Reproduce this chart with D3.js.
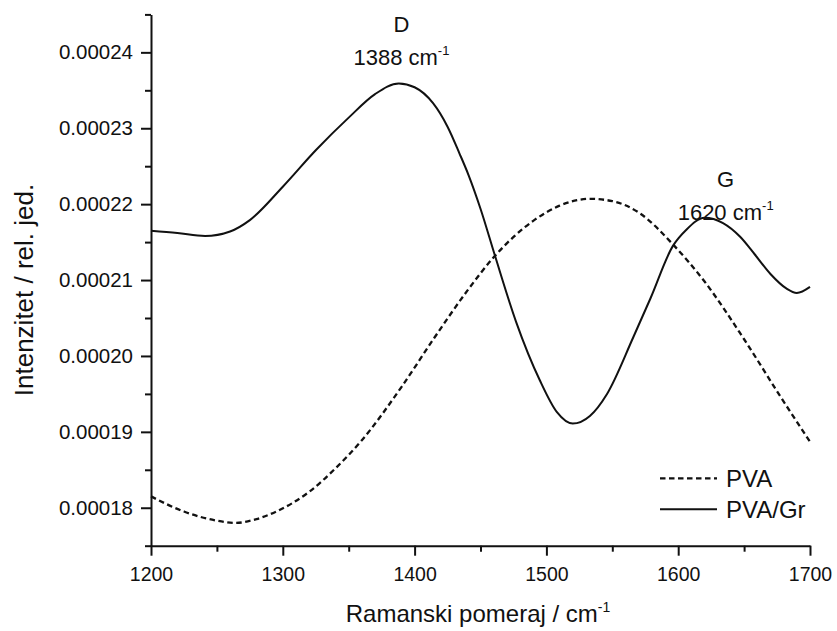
<!DOCTYPE html>
<html>
<head>
<meta charset="utf-8">
<script src="https://cdn.jsdelivr.net/npm/d3@7"></script>
<style>
  html, body { margin: 0; padding: 0; background: #fff; }
  svg { display: block; font-family: "Liberation Sans", Arial, sans-serif; }
</style>
</head>
<body>
<svg id="chart" width="837" height="631"></svg>
<script>
// ---- data ----
const pvaX = [1200, 1225, 1250, 1264, 1280, 1295, 1320, 1340, 1360, 1390, 1415, 1440, 1460, 1490, 1510, 1533, 1550, 1570, 1596, 1620, 1650, 1677, 1700];
const pvaY = [0.0001815, 0.0001795, 0.0001783, 0.0001780, 0.0001785, 0.0001795, 0.0001821, 0.0001852, 0.0001889, 0.0001959, 0.0002024, 0.0002086, 0.0002130, 0.0002178, 0.0002198, 0.0002207, 0.0002204, 0.0002189, 0.0002147, 0.0002098, 0.0002022, 0.0001948, 0.0001887];
const grX = [1200, 1220, 1241, 1260, 1275, 1300, 1325, 1350, 1370, 1388, 1400, 1414, 1425, 1434, 1441, 1450, 1461, 1477, 1495, 1508, 1520, 1533, 1546, 1566, 1579, 1596, 1606, 1620, 1634, 1647, 1658, 1670, 1682, 1690, 1700];
const grY = [0.0002165, 0.0002162, 0.0002158, 0.0002164, 0.0002179, 0.0002223, 0.0002271, 0.0002314, 0.0002345, 0.0002359, 0.0002354, 0.0002333, 0.0002302, 0.0002267, 0.0002238, 0.0002194, 0.0002132, 0.0002045, 0.0001968, 0.0001926, 0.0001911, 0.0001921, 0.0001950, 0.0002025, 0.0002076, 0.0002145, 0.0002166, 0.0002182, 0.0002175, 0.0002157, 0.0002134, 0.0002108, 0.0002089, 0.0002083, 0.0002091];
const xMajor = [1200, 1300, 1400, 1500, 1600, 1700];
const xMinor = [1250, 1350, 1450, 1550, 1650];
const yMajor = [0.00018, 0.00019, 0.00020, 0.00021, 0.00022, 0.00023, 0.00024];
const yMinor = [0.000175, 0.000185, 0.000195, 0.000205, 0.000215, 0.000225, 0.000235, 0.000245];
const seriesNames = ["PVA", "PVA/Gr"];
const peaks = [{label: "D", pos: 1388, tx: 1390, ty1: 0.0002427, ty2: 0.0002383},
               {label: "G", pos: 1620, tx: 1636, ty1: 0.0002223, ty2: 0.0002179}];

// ---- layout ----
const svg = d3.select("#chart");
const x = d3.scaleLinear().domain([1200, 1700]).range([151, 810]);
const y = d3.scaleLinear().domain([0.000175, 0.000245]).range([545.7, 14.4]);

const fmt = d3.format(".5f");

// axes
const gx = svg.append("g").attr("transform", "translate(0,545.7)");
gx.call(d3.axisBottom(x).tickValues(xMinor).tickSize(6).tickFormat("").tickSizeOuter(0));
gx.call(g => g.select(".domain").remove());
const gx2 = svg.append("g").attr("transform", "translate(0,545.7)");
gx2.call(d3.axisBottom(x).tickValues(xMajor).tickSize(10).tickPadding(11).tickSizeOuter(0).tickFormat(d3.format("d")));

const gy = svg.append("g").attr("transform", "translate(151,0)");
gy.call(d3.axisLeft(y).tickValues(yMinor).tickSize(6).tickFormat("").tickSizeOuter(0));
gy.call(g => g.select(".domain").remove());
const gy2 = svg.append("g").attr("transform", "translate(151,0)");
gy2.call(d3.axisLeft(y).tickValues(yMajor).tickSize(10).tickPadding(8).tickSizeOuter(0).tickFormat(fmt));

svg.selectAll(".domain, .tick line").attr("stroke", "#111").attr("stroke-width", 2);
gx2.selectAll("text").attr("font-size", "19.5px").attr("fill", "#111").attr("font-family", "Liberation Sans, Arial, sans-serif");
gy2.selectAll("text").attr("font-size", "20.5px").attr("fill", "#111").attr("font-family", "Liberation Sans, Arial, sans-serif");

// lines
const line = d3.line().x(d => x(d[0])).y(d => y(d[1])).curve(d3.curveMonotoneX);
const pva = pvaX.map((v, i) => [v, pvaY[i]]);
const gr = grX.map((v, i) => [v, grY[i]]);

svg.append("path").datum(pva).attr("d", line)
  .attr("fill", "none").attr("stroke", "#111").attr("stroke-width", 2.3).attr("stroke-dasharray", "5.5,3.5");
svg.append("path").datum(gr).attr("d", line)
  .attr("fill", "none").attr("stroke", "#111").attr("stroke-width", 2);

// axis titles
const xt = svg.append("text").attr("x", 478).attr("y", 621.5).attr("text-anchor", "middle")
  .attr("font-size", "24px").attr("fill", "#111");
xt.append("tspan").text("Ramanski pomeraj / cm");
xt.append("tspan").attr("font-size", "14px").attr("dy", "-10").text("-1");

svg.append("text").attr("transform", "translate(33,290) rotate(-90)").attr("text-anchor", "middle")
  .attr("font-size", "26px").attr("fill", "#111").text("Intenzitet / rel. jed.");

// peak annotations
peaks.forEach(p => {
  svg.append("text").attr("x", x(p.tx)).attr("y", y(p.ty1)).attr("text-anchor", "middle")
    .attr("font-size", "22px").attr("fill", "#111").text(p.label);
  const t = svg.append("text").attr("x", x(p.tx)).attr("y", y(p.ty2)).attr("text-anchor", "middle")
    .attr("font-size", "22px").attr("fill", "#111");
  t.append("tspan").text(p.pos + " cm");
  t.append("tspan").attr("font-size", "13px").attr("dy", "-10").text("-1");
});

// legend
const leg = svg.append("g");
[{dash: "5.5,3.5", w: 2.3, yy: 478.3, ty: 487}, {dash: null, w: 2, yy: 509.3, ty: 518}].forEach((l, i) => {
  leg.append("line").attr("x1", 660).attr("x2", 717).attr("y1", l.yy).attr("y2", l.yy)
    .attr("stroke", "#111").attr("stroke-width", l.w).attr("stroke-dasharray", l.dash);
  leg.append("text").attr("x", 726).attr("y", l.ty).attr("font-size", "24px").attr("fill", "#111").text(seriesNames[i]);
});
</script>
</body>
</html>
